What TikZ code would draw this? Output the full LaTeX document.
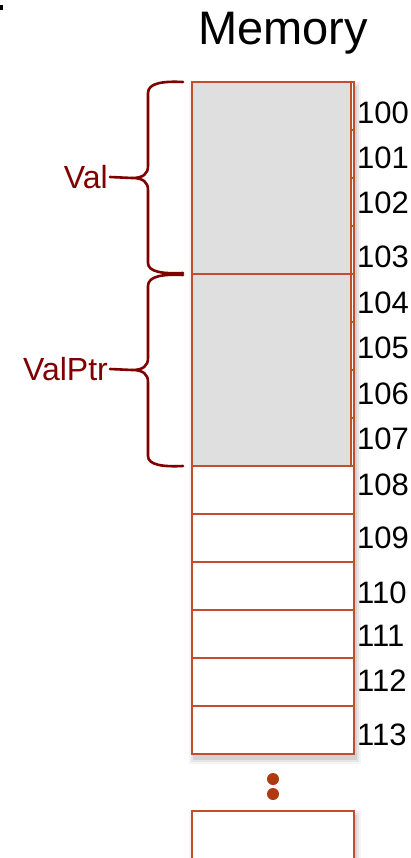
\documentclass[tikz,border=0pt]{standalone}
\usepackage{fontspec}
\setmainfont{Liberation Sans}
\definecolor{cellborder}{RGB}{192,80,42}
\definecolor{cellgray}{RGB}{223,223,223}
\definecolor{bracered}{RGB}{128,0,0}
\definecolor{dotred}{RGB}{176,58,16}
\begin{document}
\begin{tikzpicture}[x=1pt,y=-1pt,
  cell/.style={draw=cellborder,line width=1.8pt,fill=white,minimum width=162pt,minimum height=48pt,inner sep=0pt,outer sep=0pt},
  bigcell/.style={draw=cellborder,line width=1.8pt,fill=cellgray,minimum width=159pt,minimum height=192pt,inner sep=0pt,outer sep=0pt},
  addr/.style={anchor=base west,font=\fontsize{31}{31}\selectfont,inner sep=0pt},
  lab/.style={anchor=east,text=bracered,font=\fontsize{32}{32}\selectfont,inner ysep=0pt,inner xsep=2pt},
  brace/.style={draw=bracered,line width=2.6pt,line cap=round},
  dot/.style={circle,fill=dotred,minimum size=12pt,inner sep=0pt}]
\clip (0,0) rectangle (411,858);
\fill[white] (0,0) rectangle (411,858);
% small black mark
\fill[black] (0,5) rectangle (3,10);
% title
\node[font=\fontsize{47}{47}\selectfont,anchor=base,inner sep=0pt] (title) at (283,45) {Memory};
% shadows
\foreach \d/\o in {5/0.04,3/0.06,1/0.08}{
  \fill[black,opacity=\o] (192-\d+2,82-\d+5) rectangle (354+\d+2,754+\d+5);
  \fill[black,opacity=\o] (192-\d+2,811-\d+5) rectangle (354+\d+2,900);
}
% cells
\foreach \a [count=\i from 0] in {100,...,113}{
  \node[cell] (c\a) at (273,{106+48*\i}) {};
}
\node[cell,minimum height=60pt] (clast) at (273,841) {};
% big cells
\node[bigcell] (bval) at (271.5,178) {};
\node[bigcell] (bptr) at (271.5,370) {};
% dots
\node[dot] (d1) at (273,779) {};
\node[dot] (d2) at (273,794) {};
% addresses
\foreach \a/\b in {100/124,101/169,102/214,103/268,104/313,105/358,106/404,107/449,108/495,109/548,110/603,111/646,112/691,113/745}{
  \node[addr] (a\a) at (357,\b) {\a};
}
% labels
\node[lab] (val) at (110,177) {Val};
\node[lab] (valptr) at (110,369) {ValPtr};
% braces
\coordinate (vtop) at (183,82);
\coordinate (vbot) at (183,273);
\coordinate (vcusp) at (132,178);
\draw[brace] (vtop) .. controls (163,81) and (148,83) .. (148,93) -- (148,166) .. controls (148,174) and (143,178) .. (vcusp) .. controls (143,178) and (148,182) .. (148,190) -- (148,263) .. controls (148,272) and (163,274) .. (vbot);
\draw[brace] (vcusp) -- (val.east);
\coordinate (ptop) at (183,275);
\coordinate (pbot) at (183,466);
\coordinate (pcusp) at (132,370);
\draw[brace] (ptop) .. controls (163,274) and (148,276) .. (148,286) -- (148,358) .. controls (148,366) and (143,370) .. (pcusp) .. controls (143,370) and (148,374) .. (148,382) -- (148,456) .. controls (148,465) and (163,467) .. (pbot);
\draw[brace] (pcusp) -- (valptr.east);
\end{tikzpicture}
\end{document}
